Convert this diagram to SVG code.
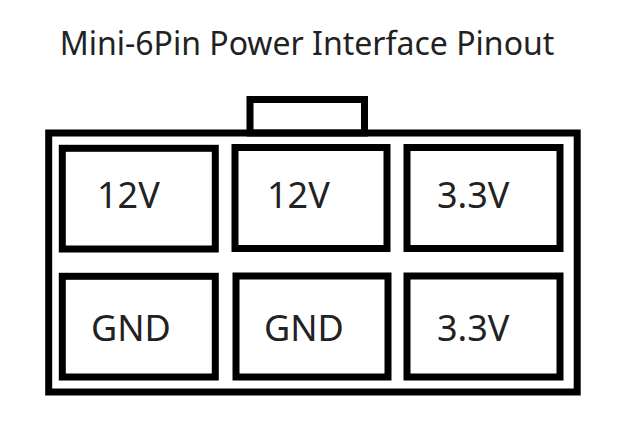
<svg xmlns="http://www.w3.org/2000/svg" width="623" height="428" viewBox="0 0 623 428">
<style>
.b{fill:none;stroke:#000;stroke-width:7}
.t{font-family:"Noto Sans","DejaVu Sans",sans-serif;font-size:36px;fill:#222}
.h{font-family:"Noto Sans","DejaVu Sans",sans-serif;font-size:32px;fill:#222}
</style>
<rect width="623" height="428" fill="#fff"/>
<text class="h" x="307" y="55" text-anchor="middle">Mini-6Pin Power Interface Pinout</text>
<g id="housing">
<rect class="b" x="250" y="99.5" width="114.5" height="33.5"/>
<rect class="b" x="48.7" y="133" width="528.5" height="259"/>
</g>
<g id="pin1"><rect class="b" x="62.3" y="148.3" width="153" height="100.7"/><text class="t" x="97" y="208">12V</text></g>
<g id="pin2"><rect class="b" x="235" y="147.5" width="152" height="101"/><text class="t" x="267" y="208">12V</text></g>
<g id="pin3"><rect class="b" x="407" y="147.5" width="153" height="101"/><text class="t" x="437" y="208">3.3V</text></g>
<g id="pin4"><rect class="b" x="62.3" y="276.3" width="153" height="100.7"/><text class="t" x="91" y="341">GND</text></g>
<g id="pin5"><rect class="b" x="236" y="276" width="152" height="101"/><text class="t" x="264" y="341">GND</text></g>
<g id="pin6"><rect class="b" x="407" y="276" width="153" height="101"/><text class="t" x="437" y="341">3.3V</text></g>
<g id="connectors"/>
</svg>
